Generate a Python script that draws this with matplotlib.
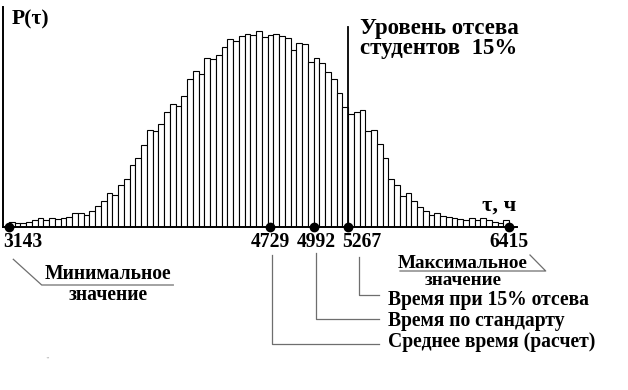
import matplotlib
matplotlib.use("Agg")
import matplotlib.pyplot as plt
import matplotlib.transforms as mtransforms
import numpy as np

# Histogram bar heights (arbitrary units)
heights = [4.7, 3.3, 4, 5, 7, 8.3, 6.3, 8.3, 7.3, 8.3,
           9.3, 14, 13.3, 11.3, 15.3, 20.7, 25.3, 33.7, 31.3, 41.3,
           47.3, 61.3, 69, 82, 96.3, 95.3, 102.3, 114.3, 122.3, 120.7,
           130.3, 147.3, 155.3, 152.7, 169, 167.3, 171.3, 179.3, 187.3, 185.7,
           190.7, 192.7, 191.7, 195.3, 189.3, 192, 192.3, 190.7, 188.7, 176.3,
           183.3, 182.3, 165, 168.3, 163.3, 154.7, 147.7, 133.3, 120, 112.7,
           115, 116.7, 95.3, 96.7, 82.3, 69, 47.7, 41.3, 31, 34,
           25.3, 20, 15.3, 11.3, 13.3, 10.7, 9.3, 8.3, 7.7, 6.7,
           8.3, 6.7, 8.3, 6.7, 5, 4, 6.7]

# Marked points (position in bin units) and their labels
marker_pos = [0.0, 45.5, 53.0, 58.9, 87.0]
marker_labels = ["3143", "4729", "4992", "5267", "6415"]
cutoff_pos = 58.9

FONT = ["Liberation Serif", "DejaVu Serif"]
plt.rcParams["font.family"] = FONT
plt.rcParams["font.weight"] = "bold"

W, H = 628, 390
fig = plt.figure(figsize=(W / 100, H / 100), dpi=100)
fig.patch.set_facecolor("white")

ax_left, ax_right, ax_top, ax_bot = 3.5, 517, 7, 226.7
ax = fig.add_axes([ax_left / W, 1 - ax_bot / H, (ax_right - ax_left) / W, (ax_bot - ax_top) / H])
ax.set_facecolor("white")

x = np.arange(len(heights))
ax.bar(x, heights, width=1.0, align="edge", color="white", edgecolor="black", linewidth=0.8, zorder=2)

bin_px = 500 / 87.0
ax.set_xlim((ax_left - 9) / bin_px, (ax_right - 9) / bin_px)
ax.set_ylim(0, ax_bot - ax_top)

for s in ["top", "right"]:
    ax.spines[s].set_visible(False)
for s in ["left", "bottom"]:
    ax.spines[s].set_linewidth(1.4)
    ax.spines[s].set_color("black")
ax.set_xticks([])
ax.set_yticks([])

# cutoff line
ax.plot([cutoff_pos, cutoff_pos], [0, ax_bot - 27], color="black", lw=1.3, zorder=3)

# markers
ax.plot(marker_pos, [0] * len(marker_pos), "o", color="black", ms=6, zorder=4, clip_on=False)

# pixel transform (x from left, y from top)
pix = mtransforms.Affine2D().scale(1 / W, -1 / H).translate(0, 1) + fig.transFigure

fs = 14.1
big = 16.5
# tick labels
label_offsets = [(-6, "left"), (0, "center"), (3, "center"), (14, "center"), (0, "center")]
for pos, lab, (off, ha) in zip(marker_pos, marker_labels, label_offsets):
    xp = 9 + pos * bin_px + off
    fig.text(xp, 247.3, lab, transform=pix, ha=ha, va="baseline", fontsize=fs, fontweight="bold")

fig.text(12, 24, "P(τ)", transform=pix, ha="left", va="baseline", fontsize=15.5, fontweight="bold")
fig.text(360.5, 54.3, "Уровень отсева\nстудентов  15%", transform=pix, ha="left", va="baseline",
         fontsize=big, fontweight="bold", linespacing=0.96)
fig.text(516.5, 210.7, "τ, ч", transform=pix, ha="right", va="baseline", fontsize=16, fontweight="bold")

gray = "#6e6e6e"
def pline(xs, ys):
    fig.add_artist(plt.Line2D(xs, ys, transform=pix, color=gray, lw=0.9))

# minimum
pline([13.3, 41.7, 173.3], [259.3, 285, 285])
fig.text(108, 300, "Минимальное\nзначение", transform=pix, ha="center", va="baseline",
         multialignment="center", fontsize=fs, fontweight="bold", linespacing=1.06)

# maximum
pline([400, 545.7, 530], [271, 271, 255])
fig.text(463, 285, "Максимальное\nзначение", transform=pix, ha="center", va="baseline",
         multialignment="center", fontsize=13.8, fontweight="bold", linespacing=0.97)

# leaders
pline([359.3, 359.3, 379], [256.7, 295, 295])
fig.text(388, 305, "Время при 15% отсева", transform=pix, ha="left", va="baseline", fontsize=fs, fontweight="bold")
pline([316, 316, 379], [253, 319, 319])
fig.text(388, 326, "Время по стандарту", transform=pix, ha="left", va="baseline", fontsize=fs, fontweight="bold")
pline([271.7, 271.7, 379], [255, 344, 344])
fig.text(388, 347, "Среднее время (расчет)", transform=pix, ha="left", va="baseline", fontsize=fs, fontweight="bold")

fig.text(47, 360, "\"", transform=pix, ha="center", va="baseline", fontsize=5, color="#aaaaaa")

fig.savefig("out.png", dpi=100, facecolor="white")
